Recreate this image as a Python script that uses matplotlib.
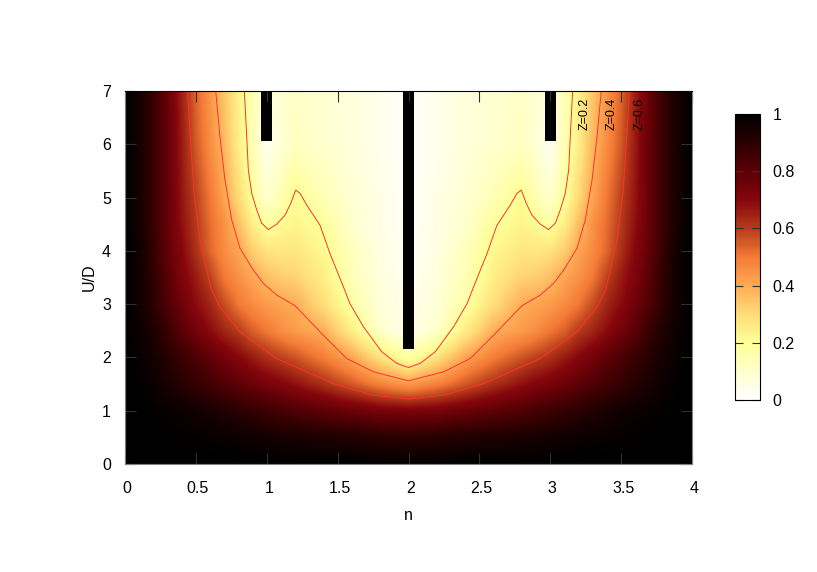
import numpy as np
import matplotlib
matplotlib.use('Agg')
import matplotlib.pyplot as plt
from matplotlib.colors import LinearSegmentedColormap
from matplotlib.transforms import ScaledTranslation

plt.rcParams['font.family'] = ['Liberation Sans', 'DejaVu Sans']
plt.rcParams['font.size'] = 11.5

# Z, left half only (the map is symmetric about n=2)
n_half = [0, .1, .2, .3, .4, .5, .6, .7, .8, .9, 1, 1.1, 1.2, 1.4, 1.6, 1.8, 2]
u_rows = [0, .5, 1, 1.5, 2, 2.5, 3, 3.5, 4, 4.5, 5, 6, 7]
z_rows = [
    [1, 1, 1, 1, 1, 1, 1, 1, 1, 1, 1, 1, 1, 1, 1, .99, .99],
    [1, 1, .995, .99, .99, .985, .98, .975, .97, .965, .955, .95, .945, .93, .92, .91, .9],
    [1, .995, .99, .98, .97, .96, .94, .92, .9, .88, .86, .84, .82, .79, .76, .73, .72],
    [1, .99, .97, .94, .91, .88, .85, .82, .79, .76, .73, .71, .68, .62, .55, .48, .43],
    [1, .98, .95, .91, .87, .83, .79, .74, .7, .66, .62, .59, .56, .49, .41, .28, .17],
    [1, .97, .93, .87, .8, .74, .69, .64, .6, .54, .5, .46, .43, .39, .25, .1, .04],
    [1, .96, .9, .82, .75, .69, .64, .57, .5, .46, .43, .41, .395, .29, .17, .08, .03],
    [1, .96, .89, .8, .72, .66, .59, .5, .45, .41, .36, .33, .32, .25, .14, .07, .025],
    [1, .96, .88, .78, .7, .62, .53, .46, .41, .33, .28, .27, .27, .22, .13, .06, .02],
    [1, .95, .87, .77, .68, .6, .52, .45, .36, .25, .18, .21, .23, .19, .1, .05, .01],
    [1, .95, .87, .77, .67, .59, .5, .41, .3, .19, .1, .15, .21, .14, .09, .05, .01],
    [1, .95, .87, .77, .66, .55, .46, .37, .25, .14, .03, .09, .12, .1, .07, .04, .01],
    [1, .95, .87, .77, .65, .53, .44, .34, .24, .14, .07, .09, .11, .09, .07, .04, .01],
]

# contours, left half
z02_n = [.842, .854, .870, .894, .929, .964, 1.011, 1.07, 1.129, 1.169, 1.204, 1.235, 1.282, 1.376, 1.446,
         1.493, 1.54, 1.587, 1.681, 1.81, 1.916, 2.0]
z02_u = [7, 6.39, 5.52, 5.08, 4.77, 4.52, 4.40, 4.50, 4.67, 4.89, 5.14, 5.08, 4.86, 4.48, 3.95,
         3.64, 3.33, 3.01, 2.58, 2.11, 1.89, 1.81]
z04_n = [.64, .67, .705, .753, .811, .905, .976, 1.07, 1.2, 1.376, 1.564, 1.752, 2.0]
z04_u = [7, 6.14, 5.33, 4.58, 4.05, 3.64, 3.39, 3.17, 2.97, 2.48, 1.98, 1.73, 1.56]
z06_n = [.442, .458, .487, .529, .576, .611, .67, .811, 1.07, 1.469, 1.752, 2.0]
z06_u = [7, 6.27, 5.08, 4.2, 3.64, 3.26, 2.95, 2.48, 1.98, 1.51, 1.29, 1.22]

# black bars: centre n, bottom U
bar_n = [1.0, 2.0, 3.0]
bar_u = [6.06, 2.16, 6.06]

cmap = LinearSegmentedColormap.from_list('z', [
    (0, '#ffffff'), (.1, '#ffffcc'), (.2, '#ffff96'), (.3, '#ffdc78'), (.4, '#ffaa55'),
    (.5, '#f47a35'), (.6, '#b53c1a'), (.7, '#87060d'), (.8, '#5a0006'), (.9, '#2c0000'),
    (1, '#000000')])

n_half = np.array(n_half)
z_half = np.array(z_rows)
n_all = np.concatenate([n_half, 4 - n_half[-2::-1]])
z_all = np.hstack([z_half, z_half[:, -2::-1]])

# finer raster just for drawing, so the cells blend without triangle artefacts
n_fine = np.linspace(0, 4, 600)
u_fine = np.linspace(0, 7, 400)
z_cols = np.array([np.interp(n_fine, n_all, row) for row in z_all])
z_fine = np.array([np.interp(u_fine, u_rows, z_cols[:, i]) for i in range(len(n_fine))]).T

fig = plt.figure(figsize=(8.17, 5.72), dpi=100)
ax = fig.add_axes([125 / 817, 1 - 464 / 572, 567 / 817, 373 / 572])
mesh = ax.imshow(z_fine, extent=[0, 4, 0, 7], origin='lower', aspect='auto', cmap=cmap, vmin=0, vmax=1,
                 interpolation='bilinear')

for nn, uu in [(z02_n, z02_u), (z04_n, z04_u), (z06_n, z06_u)]:
    nn = np.array(nn)
    uu = np.array(uu)
    ax.plot(np.concatenate([nn, 4 - nn[-2::-1]]), np.concatenate([uu, uu[-2::-1]]),
            color='#ff3030', lw=0.7)

ax.bar(bar_n, [7 - b for b in bar_u], width=0.08, bottom=bar_u, color='black')

ax.text(3.24, 6.57, 'Z=0.2', rotation=90, ha='center', va='center', fontsize=9)
ax.text(3.43, 6.57, 'Z=0.4', rotation=90, ha='center', va='center', fontsize=9)
ax.text(3.63, 6.57, 'Z=0.6', rotation=90, ha='center', va='center', fontsize=9)

ax.set_xlim(0, 4)
ax.set_ylim(0, 7)
ax.set_xticks([0, .5, 1, 1.5, 2, 2.5, 3, 3.5, 4], ['0', '0.5', '1', '1.5', '2', '2.5', '3', '3.5', '4'])
ax.set_yticks(range(8))
ax.tick_params(direction='in', top=True, right=True, length=8, width=0.8, color='#303030')
ax.tick_params(axis='x', pad=12)
ax.tick_params(axis='y', pad=10)
shift = ScaledTranslation(2 / 100, 0, fig.dpi_scale_trans)
for lab in ax.get_xticklabels():
    lab.set_transform(lab.get_transform() + shift)
ax.set_xlabel('n', labelpad=9)
ax.set_ylabel('U/D', labelpad=4)
for s in ax.spines.values():
    s.set_linewidth(0.8)
ax.spines['left'].set_color('#808080')
ax.spines['right'].set_color('#808080')
ax.spines['bottom'].set_color('#808080')

cax = fig.add_axes([735 / 817, 1 - 400 / 572, 25 / 817, 286 / 572])
cb = fig.colorbar(mesh, cax=cax)
cb.set_ticks([0, .2, .4, .6, .8, 1], labels=['0', '0.2', '0.4', '0.6', '0.8', '1'])
cax.tick_params(direction='in', length=6, width=0.8, color='#303030', left=True, right=True, pad=9)
cb.outline.set_linewidth(0.8)

fig.savefig('out.png', dpi=100)
